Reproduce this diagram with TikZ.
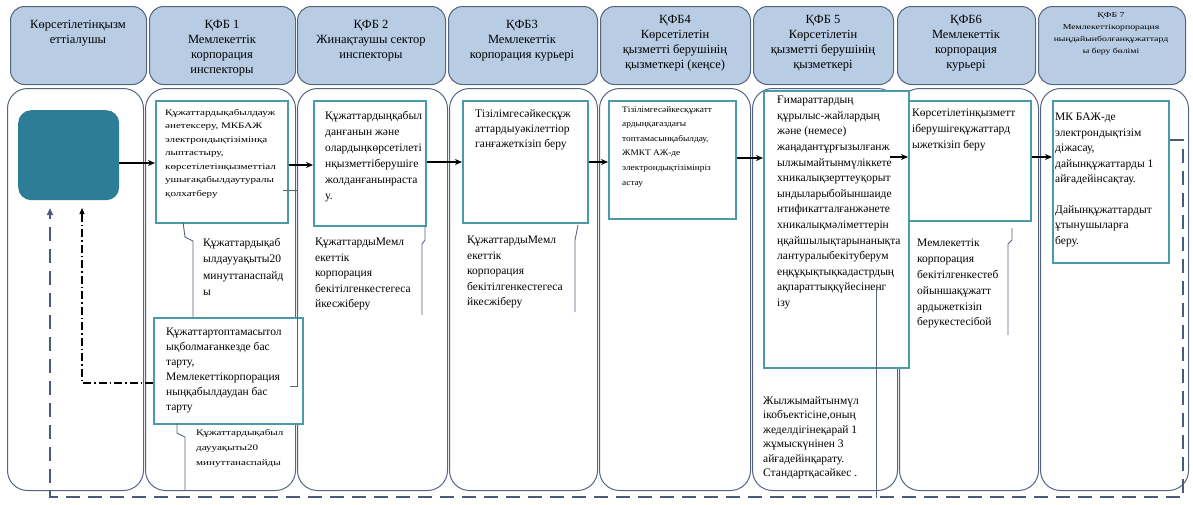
\documentclass[tikz,border=0pt]{standalone}
\usepackage{fontspec}
\setmainfont{Liberation Serif}
\newfontfamily\widef[FakeStretch=1.3]{Liberation Serif}
\newfontfamily\midf[FakeStretch=1.1]{Liberation Serif}
\usetikzlibrary{arrows.meta}
\definecolor{hdrfill}{HTML}{B8CCE4}
\definecolor{edgec}{HTML}{56657F}
\definecolor{tealc}{HTML}{4A9BAA}
\definecolor{startc}{HTML}{2E7D96}
\definecolor{dashc}{HTML}{4A5A78}
\begin{document}
\begin{tikzpicture}[x=1pt,y=-1pt,
  hdr/.style={draw=edgec, fill=hdrfill, rounded corners=14pt, line width=1pt, anchor=north west, inner sep=0pt, minimum height=78pt},
  lanebox/.style={draw=edgec, fill=white, rounded corners=20pt, line width=1pt, anchor=north west, inner sep=0pt, minimum height=402pt},
  procbox/.style={draw=tealc, line width=1.5pt, fill=white, anchor=north west, inner sep=0pt},
  startbox/.style={fill=startc, rounded corners=13pt, anchor=north west, inner sep=0pt},
  htxt/.style={anchor=north, align=center, inner sep=0pt, font=\fontsize{12.5}{15}\selectfont},
  htxtsmall/.style={anchor=north, align=center, inner sep=0pt, font=\widef\fontsize{7.5}{12}\selectfont},
  btxt/.style={anchor=north west, align=left, inner sep=0pt, font=\fontsize{11.5}{15.5}\selectfont},
  stxt/.style={anchor=north west, align=left, inner sep=0pt, font=\widef\fontsize{8.5}{13.5}\selectfont},
  mtxt/.style={anchor=north west, align=left, inner sep=0pt, font=\midf\fontsize{8.5}{14.6}\selectfont},
  flow/.style={-{Stealth[length=7pt,width=6pt]}, line width=1.8pt, black},
  callout/.style={draw=edgec, line width=0.9pt},
  ret/.style={draw=dashc, line width=2.2pt, dash pattern=on 14pt off 8pt, -{Triangle[length=7pt,width=6pt]}},
  retdd/.style={draw=black, line width=1.1pt, dash pattern=on 8pt off 3pt on 1.5pt off 3pt, -{Triangle[length=6pt,width=5pt]}}
]
\useasboundingbox (0,0) rectangle (1193,504);

% lanes
\node[lanebox, minimum width=136pt] (L0) at (7,88) {};
\node[lanebox, minimum width=150pt] (L1) at (145,88) {};
\node[lanebox, minimum width=150pt] (L2) at (297,88) {};
\node[lanebox, minimum width=148pt] (L3) at (449,88) {};
\node[lanebox, minimum width=151pt] (L4) at (599,88) {};
\node[lanebox, minimum width=145pt] (L5) at (752,88) {};
\node[lanebox, minimum width=139pt] (L6) at (899,88) {};
\node[lanebox, minimum width=148pt] (L7) at (1040,88) {};

% headers
\node[hdr, minimum width=136pt] (h0) at (10,6) {};
\node[hdr, minimum width=146pt] (h1) at (149,6) {};
\node[hdr, minimum width=148pt] (h2) at (297,6) {};
\node[hdr, minimum width=149pt] (h3) at (448,6) {};
\node[hdr, minimum width=150pt] (h4) at (600,6) {};
\node[hdr, minimum width=140pt] (h5) at (753,6) {};
\node[hdr, minimum width=138pt] (h6) at (897,6) {};
\node[hdr, minimum width=147pt] (h7) at (1038,6) {};

\node[htxt] (ht0) at (78,20) {Көрсетілетінқызм\\еттіалушы};
\node[htxt] (ht1) at (222,20) {ҚФБ 1\\Мемлекеттік\\корпорация\\инспекторы};
\node[htxt] (ht2) at (371,20) {ҚФБ 2\\Жинақтаушы сектор\\инспекторы};
\node[htxt] (ht3) at (522,20) {ҚФБ3\\Мемлекеттік\\корпорация курьері};
\node[htxt] (ht4) at (675,15) {ҚФБ4\\Көрсетілетін\\қызметті берушінің\\қызметкері (кеңсе)};
\node[htxt] (ht5) at (823,15) {ҚФБ 5\\Көрсетілетін\\қызметті берушінің\\қызметкері};
\node[htxt] (ht6) at (966,15) {ҚФБ6\\Мемлекеттік\\корпорация\\курьері};
\node[htxtsmall] (ht7) at (1111,12) {ҚФБ 7\\Мемлекеттікорпорация\\ныңдайынболғанқұжаттард\\ы беру бөлімі};

% start box
\node[startbox, minimum width=101pt, minimum height=90pt] (st) at (18,110) {};

% process boxes
\node[procbox, minimum width=132pt, minimum height=122pt] (b1) at (155,100) {};
\node[procbox, minimum width=112pt, minimum height=125pt] (b2) at (313,100) {};
\node[procbox, minimum width=125pt, minimum height=122pt] (b3) at (462,100) {};
\node[procbox, minimum width=127pt, minimum height=118pt] (b4) at (608,100) {};
\node[procbox, minimum width=145pt, minimum height=277pt] (b5) at (763,90) {};
\node[procbox, minimum width=122pt, minimum height=120pt] (b6) at (908,100) {};
\node[procbox, minimum width=116pt, minimum height=162pt] (b7) at (1052,100) {};
\node[procbox, minimum width=149pt, minimum height=106pt] (r1) at (153,317) {};

% box texts
\node[stxt] (tb1) at (165,109) {Құжаттардықабылдауж\\әнетексеру, МКБАЖ\\электрондықтізімінқа\\лыптастыру,\\көрсетілетінқызметтіал\\ушығақабылдаутуралы\\қолхатберу};
\node[btxt, font=\fontsize{11.5}{16}\selectfont] (tb2) at (325,111) {Құжаттардыңқабыл\\данғанын және\\олардыңкөрсетілеті\\нқызметтіберушіге\\жолданғанынраста\\у.};
\node[btxt, font=\fontsize{11.5}{15}\selectfont] (tb3) at (475,109) {Тізілімгесәйкесқұж\\аттардыуәкілеттіор\\ганғажеткізіп беру};
\node[mtxt] (tb4) at (622,106) {Тізілімгесәйкесқұжатт\\ардыңқағаздағы\\топтамасынқабылдау,\\ЖМКТ АЖ-де\\электрондықтізімінріз\\астау};
\node[btxt, font=\fontsize{11.5}{15.6}\selectfont] (tb5) at (777,96) {Ғимараттардың\\құрылыс-жайлардың\\және (немесе)\\жаңадантұрғызылғанж\\ылжымайтынмүліккете\\хникалықзерттеуқорыт\\ындыларыбойыншаиде\\нтификатталғанжәнете\\хникалықмәліметтерін\\ңқайшылықтарынанықта\\лантуралыбекітуберум\\еңқұқықтықкадастрдың\\ақпараттыққүйесіненг\\ізу};
\node[btxt, font=\fontsize{11.5}{16}\selectfont] (tb6) at (912,109) {Көрсетілетінқызметт\\іберушігеқұжаттард\\ыжеткізіп беру};
\node[btxt] (tb7) at (1055,113) {МК БАЖ-де\\электрондықтізім\\діжасау,\\дайынқұжаттарды 1\\айғадейінсақтау.\\[15pt]Дайынқұжаттардыт\\ұтынушыларға\\беру.};
\node[btxt, font=\fontsize{11.5}{15}\selectfont] (tr1) at (166,328) {Құжаттартоптамасытол\\ықболмағанкезде бас\\тарту,\\Мемлекеттікорпорация\\ныңқабылдаудан бас\\тарту};

% notes
\node[btxt, font=\fontsize{11.5}{16.5}\selectfont] (n1) at (203,238) {Құжаттардықаб\\ылдаууақыты20\\минуттанаспайд\\ы};
\node[btxt] (n2) at (315,238) {ҚұжаттардыМемл\\екеттік\\корпорация\\бекітілгенкестегеса\\йкесжіберу};
\node[btxt] (n3) at (467,236) {ҚұжаттардыМемл\\екеттік\\корпорация\\бекітілгенкестегеса\\йкесжіберу};
\node[btxt, font=\fontsize{11.5}{15.8}\selectfont] (n6) at (917,239) {Мемлекеттік\\корпорация\\бекітілгенкестеб\\ойыншақұжатт\\ардыжеткізіп\\берукестесібой};
\node[btxt, font=\fontsize{11.5}{14.5}\selectfont] (n5) at (763,396) {Жылжымайтынмүл\\ікобъектісіне,оның\\жеделдігінеқарай 1\\жұмыскүнінен 3\\айғадейінқарату.\\Стандартқасәйкес .};
\node[stxt, font=\widef\fontsize{8.5}{15}\selectfont] (n1b) at (196,429) {Құжаттардықабыл\\даууақыты20\\минуттанаспайды};

% callout lines
\draw[callout] (183,222) -- (185,237) -- (193,241) -- (193,317);
\draw[callout] (177,423) -- (177,433) -- (185,437) -- (185,490);
\draw[callout] (425,225) -- (425,240) -- (422,244) -- (422,315);
\draw[callout] (578,225) -- (575,240) -- (575,312);
\draw[callout] (1012,228) -- (1012,240) -- (1008,244) -- (1008,335);
\draw[callout] (876,290) -- (876,498);
\draw[callout] (283,190) -- (297,190) -- (297,386) -- (290,386);

% flow arrows
\coordinate (ra) at (0,163);
\coordinate (rb) at (0,165);
\coordinate (rc) at (0,162);
\coordinate (rd) at (0,158);
\coordinate (re) at (0,157);
\coordinate (a6s) at (890,157);
\draw[flow] (st.east |- ra) -- (b1.west |- ra);
\draw[flow] (b1.east |- rb) -- (b2.west |- rb);
\draw[flow] (b2.east |- rc) -- (b3.west |- rc);
\draw[flow] (b3.east |- rc) -- (b4.west |- rc);
\draw[flow] (b4.east |- rd) -- (b5.west |- rd);
\draw[flow] (a6s) -- (b6.west |- a6s);
\draw[flow] (b6.east |- re) -- (b7.west |- re);

% return paths
\coordinate (rt) at (0,140);
\coordinate (rx) at (1183,140);
\coordinate (rbr) at (1183,497);
\coordinate (rbl) at (50,497);
\coordinate (rend) at (50,208);
\draw[ret] (b7.east |- rt) -- (rx) -- (rbr) -- (rbl) -- (rend);
\coordinate (dd1) at (82,383);
\coordinate (dd2) at (82,208);
\draw[retdd] (r1.west |- dd1) -- (dd1) -- (dd2);
\end{tikzpicture}
\end{document}
